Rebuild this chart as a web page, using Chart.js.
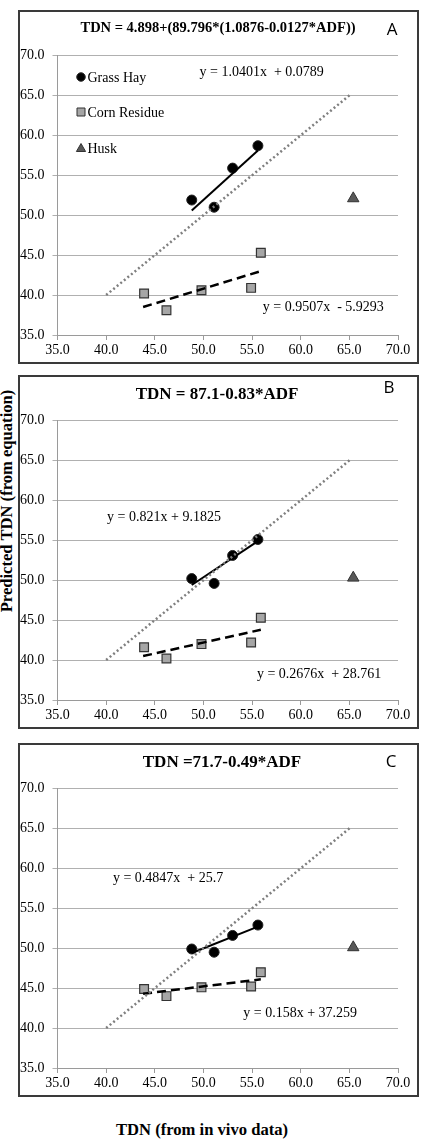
<!DOCTYPE html>
<html>
<head>
<meta charset="utf-8">
<script src="https://cdn.jsdelivr.net/npm/chart.js@4.4.1/dist/chart.umd.min.js"></script>
<style>
  html, body { margin: 0; padding: 0; background: #fff; }
  body { position: relative; width: 422px; height: 1140px; overflow: hidden; }
  .box {
    position: absolute; left: 18px; width: 401px; height: 354px;
    border: 2px solid #3a3a3a; box-sizing: border-box;
  }
  .box div { position: relative; width: 397px; height: 350px; }
  .axis-title {
    position: absolute; white-space: nowrap; color: #000;
    font: bold 16.6px "Liberation Serif", "DejaVu Serif", serif;
    transform: translate(-50%, -50%);
  }
  #ytitle { left: 7px; top: 501px; transform: translate(-50%, -50%) rotate(-90deg); }
  #xtitle { left: 202px; top: 1130px; }
</style>
</head>
<body>
<div class="box" style="top:10px"><div><canvas id="c-a"></canvas></div></div>
<div class="box" style="top:375px"><div><canvas id="c-b"></canvas></div></div>
<div class="box" style="top:743px"><div><canvas id="c-c"></canvas></div></div>
<div class="axis-title" id="ytitle">Predicted TDN (from equation)</div>
<div class="axis-title" id="xtitle">TDN (from in vivo data)</div>

<script>
// in vivo TDN (x) is shared by all three panels
const grassX = [48.8, 51.1, 53.0, 55.6];
const cornX = [43.9, 46.2, 49.8, 54.9, 55.9];
const huskX = [65.4];

// predicted TDN, panel A
const grassA = [51.9, 51.0, 55.9, 58.7];
const cornA = [40.2, 38.1, 40.6, 40.9, 45.3];
const huskA = [52.1];
// panel B
const grassB = [50.2, 49.6, 53.1, 55.1];
const cornB = [41.6, 40.2, 42.0, 42.2, 45.3];
const huskB = [50.3];
// panel C
const grassC = [49.9, 49.5, 51.6, 52.9];
const cornC = [44.9, 44.0, 45.1, 45.2, 47.0];
const huskC = [50.1];

// trendline end points
const grassTrendX = [48.8, 55.6];
const cornTrendX = [43.8, 55.9];
const grassTrendA = [50.6, 58.1];
const cornTrendA = [38.5, 43.0];
const grassTrendB = [49.4, 54.9];
const cornTrendB = [40.5, 43.8];
const grassTrendC = [49.4, 52.7];
const cornTrendC = [44.3, 46.1];
const unityX = [40, 65.2];
const unityY = [40, 65.2];

const axisTicks = [35, 40, 45, 50, 55, 60, 65, 70];
const legendLabels = ["Grass Hay", "Corn Residue", "Husk"];

const SERIF = '"Liberation Serif", "DejaVu Serif", serif';

function pts(xs, ys) {
  return xs.map(function (x, i) { return { x: x, y: ys[i] }; });
}

const panelText = {
  id: "panelText",
  afterDraw: function (chart, args, o) {
    const ctx = chart.ctx;
    const xs = chart.scales.x;
    const ys = chart.scales.y;
    ctx.save();
    ctx.fillStyle = "#000";
    ctx.textBaseline = "middle";
    ctx.textAlign = "center";
    ctx.font = "bold " + o.titleSize + "px " + SERIF;
    ctx.fillText(o.title, o.titleX, o.titleY);
    ctx.font = '17px "Open Sans", "Liberation Sans", sans-serif';
    ctx.fillText(o.letter, o.letterX, o.letterY);

    ctx.textAlign = "left";
    ctx.font = "14px " + SERIF;
    o.notes.forEach(function (n) {
      ctx.fillText(n.text, xs.getPixelForValue(n.x), ys.getPixelForValue(n.y));
    });

    if (o.legend) {
      const a = chart.chartArea;
      const mx = a.left + 23.5;
      const rows = [21.5, 56.5, 92.5];
      rows.forEach(function (dy, i) {
        const y = a.top + dy;
        ctx.lineWidth = 1;
        ctx.strokeStyle = "#333";
        ctx.beginPath();
        if (i === 0) {
          ctx.fillStyle = "#000";
          ctx.arc(mx, y, 4.3, 0, Math.PI * 2);
        } else if (i === 1) {
          ctx.fillStyle = "#a6a6a6";
          ctx.rect(mx - 4, y - 4, 8, 8);
        } else {
          ctx.fillStyle = "#595959";
          ctx.moveTo(mx, y - 4.5);
          ctx.lineTo(mx + 4.6, y + 3.5);
          ctx.lineTo(mx - 4.6, y + 3.5);
          ctx.closePath();
        }
        ctx.fill();
        ctx.stroke();
        ctx.fillStyle = "#000";
        ctx.fillText(legendLabels[i], mx + 6.5, y + 1);
      });
    }
    ctx.restore();
  },
};

function makePanel(id, p) {
  const tickFont = { family: SERIF, size: 14 };
  new Chart(document.getElementById(id), {
    type: "scatter",
    data: {
      datasets: [
        {
          label: "1:1",
          data: pts(unityX, unityY),
          showLine: true,
          borderColor: "#7f7f7f",
          borderWidth: 2.5,
          borderDash: [2, 2.6],
          pointRadius: 0,
        },
        {
          label: "Grass trend",
          data: pts(grassTrendX, p.grassTrend),
          showLine: true,
          borderColor: "#000",
          borderWidth: 2,
          pointRadius: 0,
        },
        {
          label: "Corn trend",
          data: pts(cornTrendX, p.cornTrend),
          showLine: true,
          borderColor: "#000",
          borderWidth: 2.5,
          borderDash: [9, 5],
          pointRadius: 0,
        },
        {
          label: legendLabels[0],
          data: pts(grassX, p.grass),
          pointStyle: "circle",
          pointRadius: 5,
          backgroundColor: "#000",
          borderColor: "#222",
          borderWidth: 1,
        },
        {
          label: legendLabels[1],
          data: pts(cornX, p.corn),
          pointStyle: "rect",
          pointRadius: 6.2,
          backgroundColor: "#a6a6a6",
          borderColor: "#333",
          borderWidth: 1.2,
        },
        {
          label: legendLabels[2],
          data: pts(huskX, p.husk),
          pointStyle: "triangle",
          pointRadius: 6.6,
          backgroundColor: "#595959",
          borderColor: "#333",
          borderWidth: 1,
        },
      ],
    },
    options: {
      responsive: true,
      maintainAspectRatio: false,
      animation: false,
      events: [],
      layout: { padding: { top: 43.5, right: 19, left: 0, bottom: 0 } },
      plugins: {
        legend: { display: false },
        tooltip: { enabled: false },
        panelText: p.text,
      },
      scales: {
        x: {
          type: "linear",
          min: 35,
          max: 70,
          afterBuildTicks: function (s) {
            s.ticks = axisTicks.map(function (v) { return { value: v }; });
          },
          afterFit: function (s) { s.height = 27; },
          ticks: {
            color: "#000",
            font: tickFont,
            padding: 2,
            maxRotation: 0,
            callback: function (v) { return Number(v).toFixed(1); },
          },
          grid: { drawOnChartArea: false, tickLength: 5, color: "#9a9a9a" },
          border: { color: "#9a9a9a" },
        },
        y: {
          min: 35,
          max: 70,
          afterBuildTicks: function (s) {
            s.ticks = axisTicks.map(function (v) { return { value: v }; });
          },
          afterFit: function (s) { s.width = 37.5; },
          ticks: {
            color: "#000",
            font: tickFont,
            padding: 8,
            callback: function (v) { return Number(v).toFixed(1); },
          },
          grid: { tickLength: 5, color: "#b0b0b0" },
          border: { color: "#9a9a9a" },
        },
      },
    },
    plugins: [panelText],
  });
}

makePanel("c-a", {
  grass: grassA, corn: cornA, husk: huskA,
  grassTrend: grassTrendA, cornTrend: cornTrendA,
  text: {
    title: "TDN = 4.898+(89.796*(1.0876-0.0127*ADF))",
    titleSize: 14.5, titleX: 198, titleY: 16,
    letter: "A", letterX: 372, letterY: 18,
    legend: true,
    notes: [
      { text: "y = 1.0401x  + 0.0789", x: 49.6, y: 67.9 },
      { text: "y = 0.9507x  - 5.9293", x: 56.1, y: 38.5 },
    ],
  },
});

makePanel("c-b", {
  grass: grassB, corn: cornB, husk: huskB,
  grassTrend: grassTrendB, cornTrend: cornTrendB,
  text: {
    title: "TDN = 87.1-0.83*ADF",
    titleSize: 17, titleX: 197, titleY: 18,
    letter: "B", letterX: 369, letterY: 11,
    legend: false,
    notes: [
      { text: "y = 0.821x + 9.1825", x: 40.1, y: 57.9 },
      { text: "y = 0.2676x  + 28.761", x: 55.5, y: 38.25 },
    ],
  },
});

makePanel("c-c", {
  grass: grassC, corn: cornC, husk: huskC,
  grassTrend: grassTrendC, cornTrend: cornTrendC,
  text: {
    title: "TDN =71.7-0.49*ADF",
    titleSize: 17, titleX: 202, titleY: 18,
    letter: "C", letterX: 371, letterY: 17,
    legend: false,
    notes: [
      { text: "y = 0.4847x  + 25.7", x: 40.7, y: 58.75 },
      { text: "y = 0.158x + 37.259", x: 54.1, y: 41.9 },
    ],
  },
});
</script>
</body>
</html>
